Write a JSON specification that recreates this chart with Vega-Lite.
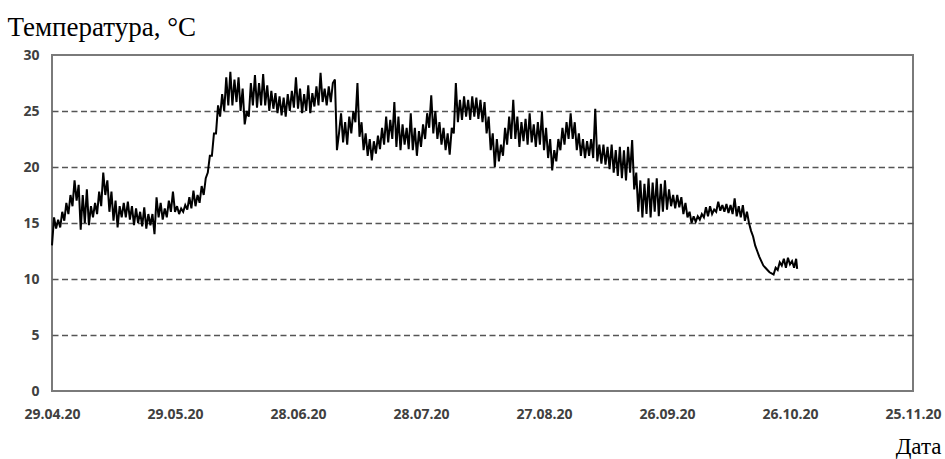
{
  "$schema": "https://vega.github.io/schema/vega-lite/v6.json",
  "autosize": {"type": "none"},
  "padding": {"left": 52, "top": 55, "right": 32, "bottom": 68},
  "width": 861,
  "height": 336,
  "background": "white",
  "config": {
    "view": {"stroke": "#7a7a7a", "strokeWidth": 2},
    "axis": {
      "labelFont": "Open Sans",
      "labelFontWeight": "bold",
      "labelFontSize": 14,
      "labelColor": "#404040",
      "titleFont": "Liberation Serif",
      "titleFontWeight": "normal",
      "titleColor": "#000000",
      "domain": false,
      "ticks": false
    }
  },
  "data": {
    "values": [
      {"t":"2020-04-29T00:00","v":13.0},{"t":"2020-04-29T12:00","v":15.5},
      {"t":"2020-04-30T00:00","v":14.5},{"t":"2020-04-30T12:00","v":15.3},
      {"t":"2020-05-01T00:00","v":14.6},{"t":"2020-05-01T12:00","v":16.0},
      {"t":"2020-05-02T00:00","v":15.2},{"t":"2020-05-02T12:00","v":16.8},
      {"t":"2020-05-03T00:00","v":15.8},{"t":"2020-05-03T12:00","v":17.5},
      {"t":"2020-05-04T00:00","v":16.5},{"t":"2020-05-04T12:00","v":18.8},
      {"t":"2020-05-05T00:00","v":17.0},{"t":"2020-05-05T12:00","v":18.4},
      {"t":"2020-05-06T00:00","v":14.4},{"t":"2020-05-06T12:00","v":17.5},
      {"t":"2020-05-07T00:00","v":15.0},{"t":"2020-05-07T12:00","v":18.0},
      {"t":"2020-05-08T00:00","v":14.8},{"t":"2020-05-08T12:00","v":16.5},
      {"t":"2020-05-09T00:00","v":15.5},{"t":"2020-05-09T12:00","v":16.8},
      {"t":"2020-05-10T00:00","v":15.8},{"t":"2020-05-10T12:00","v":17.8},
      {"t":"2020-05-11T00:00","v":16.5},{"t":"2020-05-11T12:00","v":19.5},
      {"t":"2020-05-12T00:00","v":17.5},{"t":"2020-05-12T12:00","v":18.8},
      {"t":"2020-05-13T00:00","v":16.0},{"t":"2020-05-13T12:00","v":17.8},
      {"t":"2020-05-14T00:00","v":15.2},{"t":"2020-05-14T12:00","v":17.0},
      {"t":"2020-05-15T00:00","v":14.6},{"t":"2020-05-15T12:00","v":16.5},
      {"t":"2020-05-16T00:00","v":15.5},{"t":"2020-05-16T12:00","v":16.8},
      {"t":"2020-05-17T00:00","v":15.5},{"t":"2020-05-17T12:00","v":16.9},
      {"t":"2020-05-18T00:00","v":15.3},{"t":"2020-05-18T12:00","v":16.5},
      {"t":"2020-05-19T00:00","v":14.8},{"t":"2020-05-19T12:00","v":16.3},
      {"t":"2020-05-20T00:00","v":15.0},{"t":"2020-05-20T12:00","v":16.0},
      {"t":"2020-05-21T00:00","v":14.7},{"t":"2020-05-21T12:00","v":16.4},
      {"t":"2020-05-22T00:00","v":14.5},{"t":"2020-05-22T12:00","v":15.8},
      {"t":"2020-05-23T00:00","v":14.8},{"t":"2020-05-23T12:00","v":15.8},
      {"t":"2020-05-24T00:00","v":14.0},{"t":"2020-05-24T12:00","v":17.3},
      {"t":"2020-05-25T00:00","v":15.5},{"t":"2020-05-25T12:00","v":16.8},
      {"t":"2020-05-26T00:00","v":15.3},{"t":"2020-05-26T12:00","v":16.3},
      {"t":"2020-05-27T00:00","v":15.5},{"t":"2020-05-27T12:00","v":17.0},
      {"t":"2020-05-28T00:00","v":16.0},{"t":"2020-05-28T12:00","v":17.8},
      {"t":"2020-05-29T00:00","v":16.0},{"t":"2020-05-29T12:00","v":16.5},
      {"t":"2020-05-30T00:00","v":15.8},{"t":"2020-05-30T12:00","v":16.3},
      {"t":"2020-05-31T00:00","v":16.0},{"t":"2020-05-31T12:00","v":16.6},
      {"t":"2020-06-01T00:00","v":16.2},{"t":"2020-06-01T12:00","v":17.3},
      {"t":"2020-06-02T00:00","v":16.3},{"t":"2020-06-02T12:00","v":17.9},
      {"t":"2020-06-03T00:00","v":16.5},{"t":"2020-06-03T12:00","v":17.5},
      {"t":"2020-06-04T00:00","v":16.8},{"t":"2020-06-04T12:00","v":18.3},
      {"t":"2020-06-05T00:00","v":17.5},{"t":"2020-06-05T12:00","v":19.0},
      {"t":"2020-06-06T00:00","v":19.5},{"t":"2020-06-06T12:00","v":21.0},
      {"t":"2020-06-07T00:00","v":21.0},{"t":"2020-06-07T12:00","v":23.0},
      {"t":"2020-06-08T00:00","v":23.0},{"t":"2020-06-08T12:00","v":25.5},
      {"t":"2020-06-09T00:00","v":24.5},{"t":"2020-06-09T12:00","v":26.5},
      {"t":"2020-06-10T00:00","v":25.0},{"t":"2020-06-10T12:00","v":28.0},
      {"t":"2020-06-11T00:00","v":25.5},{"t":"2020-06-11T12:00","v":28.5},
      {"t":"2020-06-12T00:00","v":25.5},{"t":"2020-06-12T12:00","v":27.8},
      {"t":"2020-06-13T00:00","v":25.8},{"t":"2020-06-13T12:00","v":28.0},
      {"t":"2020-06-14T00:00","v":25.0},{"t":"2020-06-14T12:00","v":27.0},
      {"t":"2020-06-15T00:00","v":23.8},{"t":"2020-06-15T12:00","v":25.0},
      {"t":"2020-06-16T00:00","v":24.5},{"t":"2020-06-16T12:00","v":27.5},
      {"t":"2020-06-17T00:00","v":25.5},{"t":"2020-06-17T12:00","v":28.2},
      {"t":"2020-06-18T00:00","v":25.3},{"t":"2020-06-18T12:00","v":27.5},
      {"t":"2020-06-19T00:00","v":25.5},{"t":"2020-06-19T12:00","v":28.3},
      {"t":"2020-06-20T00:00","v":25.5},{"t":"2020-06-20T12:00","v":27.3},
      {"t":"2020-06-21T00:00","v":25.0},{"t":"2020-06-21T12:00","v":26.8},
      {"t":"2020-06-22T00:00","v":25.2},{"t":"2020-06-22T12:00","v":26.6},
      {"t":"2020-06-23T00:00","v":24.8},{"t":"2020-06-23T12:00","v":26.3},
      {"t":"2020-06-24T00:00","v":24.6},{"t":"2020-06-24T12:00","v":26.2},
      {"t":"2020-06-25T00:00","v":24.5},{"t":"2020-06-25T12:00","v":26.5},
      {"t":"2020-06-26T00:00","v":25.0},{"t":"2020-06-26T12:00","v":26.8},
      {"t":"2020-06-27T00:00","v":25.3},{"t":"2020-06-27T12:00","v":28.0},
      {"t":"2020-06-28T00:00","v":25.2},{"t":"2020-06-28T12:00","v":27.0},
      {"t":"2020-06-29T00:00","v":24.8},{"t":"2020-06-29T12:00","v":26.5},
      {"t":"2020-06-30T00:00","v":25.0},{"t":"2020-06-30T12:00","v":27.3},
      {"t":"2020-07-01T00:00","v":24.8},{"t":"2020-07-01T12:00","v":26.6},
      {"t":"2020-07-02T00:00","v":25.4},{"t":"2020-07-02T12:00","v":27.2},
      {"t":"2020-07-03T00:00","v":25.5},{"t":"2020-07-03T12:00","v":28.4},
      {"t":"2020-07-04T00:00","v":25.8},{"t":"2020-07-04T12:00","v":27.0},
      {"t":"2020-07-05T00:00","v":25.5},{"t":"2020-07-05T12:00","v":27.2},
      {"t":"2020-07-06T00:00","v":25.8},{"t":"2020-07-06T12:00","v":27.5},
      {"t":"2020-07-07T00:00","v":27.8},{"t":"2020-07-07T12:00","v":21.5},
      {"t":"2020-07-08T00:00","v":23.0},{"t":"2020-07-08T12:00","v":24.8},
      {"t":"2020-07-09T00:00","v":22.2},{"t":"2020-07-09T12:00","v":24.0},
      {"t":"2020-07-10T00:00","v":22.0},{"t":"2020-07-10T12:00","v":24.5},
      {"t":"2020-07-11T00:00","v":23.0},{"t":"2020-07-11T12:00","v":25.0},
      {"t":"2020-07-12T00:00","v":24.0},{"t":"2020-07-12T12:00","v":27.5},
      {"t":"2020-07-13T00:00","v":22.7},{"t":"2020-07-13T12:00","v":24.0},
      {"t":"2020-07-14T00:00","v":21.5},{"t":"2020-07-14T12:00","v":23.0},
      {"t":"2020-07-15T00:00","v":21.0},{"t":"2020-07-15T12:00","v":22.5},
      {"t":"2020-07-16T00:00","v":20.6},{"t":"2020-07-16T12:00","v":22.3},
      {"t":"2020-07-17T00:00","v":21.2},{"t":"2020-07-17T12:00","v":22.8},
      {"t":"2020-07-18T00:00","v":21.6},{"t":"2020-07-18T12:00","v":23.5},
      {"t":"2020-07-19T00:00","v":22.0},{"t":"2020-07-19T12:00","v":24.5},
      {"t":"2020-07-20T00:00","v":22.2},{"t":"2020-07-20T12:00","v":24.2},
      {"t":"2020-07-21T00:00","v":22.5},{"t":"2020-07-21T12:00","v":25.8},
      {"t":"2020-07-22T00:00","v":21.8},{"t":"2020-07-22T12:00","v":24.5},
      {"t":"2020-07-23T00:00","v":21.5},{"t":"2020-07-23T12:00","v":23.8},
      {"t":"2020-07-24T00:00","v":22.0},{"t":"2020-07-24T12:00","v":23.5},
      {"t":"2020-07-25T00:00","v":21.6},{"t":"2020-07-25T12:00","v":24.8},
      {"t":"2020-07-26T00:00","v":21.5},{"t":"2020-07-26T12:00","v":23.5},
      {"t":"2020-07-27T00:00","v":21.0},{"t":"2020-07-27T12:00","v":23.2},
      {"t":"2020-07-28T00:00","v":21.8},{"t":"2020-07-28T12:00","v":23.8},
      {"t":"2020-07-29T00:00","v":22.5},{"t":"2020-07-29T12:00","v":24.8},
      {"t":"2020-07-30T00:00","v":23.5},{"t":"2020-07-30T12:00","v":26.4},
      {"t":"2020-07-31T00:00","v":23.0},{"t":"2020-07-31T12:00","v":25.0},
      {"t":"2020-08-01T00:00","v":22.5},{"t":"2020-08-01T12:00","v":24.0},
      {"t":"2020-08-02T00:00","v":22.0},{"t":"2020-08-02T12:00","v":23.5},
      {"t":"2020-08-03T00:00","v":21.5},{"t":"2020-08-03T12:00","v":23.0},
      {"t":"2020-08-04T00:00","v":21.1},{"t":"2020-08-04T12:00","v":23.5},
      {"t":"2020-08-05T00:00","v":23.0},{"t":"2020-08-05T12:00","v":27.5},
      {"t":"2020-08-06T00:00","v":24.0},{"t":"2020-08-06T12:00","v":26.0},
      {"t":"2020-08-07T00:00","v":24.2},{"t":"2020-08-07T12:00","v":26.3},
      {"t":"2020-08-08T00:00","v":24.5},{"t":"2020-08-08T12:00","v":26.0},
      {"t":"2020-08-09T00:00","v":24.2},{"t":"2020-08-09T12:00","v":26.3},
      {"t":"2020-08-10T00:00","v":24.5},{"t":"2020-08-10T12:00","v":26.2},
      {"t":"2020-08-11T00:00","v":24.3},{"t":"2020-08-11T12:00","v":26.0},
      {"t":"2020-08-12T00:00","v":24.0},{"t":"2020-08-12T12:00","v":25.8},
      {"t":"2020-08-13T00:00","v":23.0},{"t":"2020-08-13T12:00","v":24.5},
      {"t":"2020-08-14T00:00","v":21.5},{"t":"2020-08-14T12:00","v":23.0},
      {"t":"2020-08-15T00:00","v":20.0},{"t":"2020-08-15T12:00","v":22.5},
      {"t":"2020-08-16T00:00","v":20.5},{"t":"2020-08-16T12:00","v":22.0},
      {"t":"2020-08-17T00:00","v":21.0},{"t":"2020-08-17T12:00","v":23.5},
      {"t":"2020-08-18T00:00","v":22.0},{"t":"2020-08-18T12:00","v":24.5},
      {"t":"2020-08-19T00:00","v":22.5},{"t":"2020-08-19T12:00","v":26.0},
      {"t":"2020-08-20T00:00","v":22.5},{"t":"2020-08-20T12:00","v":24.5},
      {"t":"2020-08-21T00:00","v":21.8},{"t":"2020-08-21T12:00","v":24.0},
      {"t":"2020-08-22T00:00","v":22.3},{"t":"2020-08-22T12:00","v":24.3},
      {"t":"2020-08-23T00:00","v":22.0},{"t":"2020-08-23T12:00","v":24.8},
      {"t":"2020-08-24T00:00","v":22.2},{"t":"2020-08-24T12:00","v":23.8},
      {"t":"2020-08-25T00:00","v":21.8},{"t":"2020-08-25T12:00","v":24.0},
      {"t":"2020-08-26T00:00","v":22.0},{"t":"2020-08-26T12:00","v":24.9},
      {"t":"2020-08-27T00:00","v":21.5},{"t":"2020-08-27T12:00","v":23.5},
      {"t":"2020-08-28T00:00","v":20.8},{"t":"2020-08-28T12:00","v":22.5},
      {"t":"2020-08-29T00:00","v":19.7},{"t":"2020-08-29T12:00","v":21.5},
      {"t":"2020-08-30T00:00","v":20.5},{"t":"2020-08-30T12:00","v":22.5},
      {"t":"2020-08-31T00:00","v":21.5},{"t":"2020-08-31T12:00","v":23.5},
      {"t":"2020-09-01T00:00","v":22.0},{"t":"2020-09-01T12:00","v":24.0},
      {"t":"2020-09-02T00:00","v":22.5},{"t":"2020-09-02T12:00","v":24.8},
      {"t":"2020-09-03T00:00","v":22.5},{"t":"2020-09-03T12:00","v":24.0},
      {"t":"2020-09-04T00:00","v":21.5},{"t":"2020-09-04T12:00","v":23.0},
      {"t":"2020-09-05T00:00","v":21.0},{"t":"2020-09-05T12:00","v":22.5},
      {"t":"2020-09-06T00:00","v":20.8},{"t":"2020-09-06T12:00","v":22.3},
      {"t":"2020-09-07T00:00","v":21.0},{"t":"2020-09-07T12:00","v":22.5},
      {"t":"2020-09-08T00:00","v":20.8},{"t":"2020-09-08T12:00","v":25.2},
      {"t":"2020-09-09T00:00","v":20.5},{"t":"2020-09-09T12:00","v":22.0},
      {"t":"2020-09-10T00:00","v":20.3},{"t":"2020-09-10T12:00","v":22.0},
      {"t":"2020-09-11T00:00","v":20.2},{"t":"2020-09-11T12:00","v":21.8},
      {"t":"2020-09-12T00:00","v":19.8},{"t":"2020-09-12T12:00","v":22.0},
      {"t":"2020-09-13T00:00","v":19.5},{"t":"2020-09-13T12:00","v":21.5},
      {"t":"2020-09-14T00:00","v":19.2},{"t":"2020-09-14T12:00","v":21.8},
      {"t":"2020-09-15T00:00","v":19.0},{"t":"2020-09-15T12:00","v":21.5},
      {"t":"2020-09-16T00:00","v":18.8},{"t":"2020-09-16T12:00","v":21.8},
      {"t":"2020-09-17T00:00","v":19.5},{"t":"2020-09-17T12:00","v":22.4},
      {"t":"2020-09-18T00:00","v":18.0},{"t":"2020-09-18T12:00","v":19.5},
      {"t":"2020-09-19T00:00","v":16.0},{"t":"2020-09-19T12:00","v":18.8},
      {"t":"2020-09-20T00:00","v":15.5},{"t":"2020-09-20T12:00","v":18.5},
      {"t":"2020-09-21T00:00","v":15.8},{"t":"2020-09-21T12:00","v":19.0},
      {"t":"2020-09-22T00:00","v":15.5},{"t":"2020-09-22T12:00","v":18.6},
      {"t":"2020-09-23T00:00","v":16.0},{"t":"2020-09-23T12:00","v":19.0},
      {"t":"2020-09-24T00:00","v":15.6},{"t":"2020-09-24T12:00","v":18.5},
      {"t":"2020-09-25T00:00","v":16.0},{"t":"2020-09-25T12:00","v":18.8},
      {"t":"2020-09-26T00:00","v":16.2},{"t":"2020-09-26T12:00","v":18.0},
      {"t":"2020-09-27T00:00","v":16.5},{"t":"2020-09-27T12:00","v":17.5},
      {"t":"2020-09-28T00:00","v":16.3},{"t":"2020-09-28T12:00","v":17.5},
      {"t":"2020-09-29T00:00","v":16.4},{"t":"2020-09-29T12:00","v":17.3},
      {"t":"2020-09-30T00:00","v":15.8},{"t":"2020-09-30T12:00","v":16.8},
      {"t":"2020-10-01T00:00","v":15.5},{"t":"2020-10-01T12:00","v":16.0},
      {"t":"2020-10-02T00:00","v":15.0},{"t":"2020-10-02T12:00","v":15.6},
      {"t":"2020-10-03T00:00","v":15.1},{"t":"2020-10-03T12:00","v":15.6},
      {"t":"2020-10-04T00:00","v":15.3},{"t":"2020-10-04T12:00","v":15.8},
      {"t":"2020-10-05T00:00","v":15.5},{"t":"2020-10-05T12:00","v":16.4},
      {"t":"2020-10-06T00:00","v":15.6},{"t":"2020-10-06T12:00","v":16.5},
      {"t":"2020-10-07T00:00","v":15.8},{"t":"2020-10-07T12:00","v":16.2},
      {"t":"2020-10-08T00:00","v":16.0},{"t":"2020-10-08T12:00","v":16.9},
      {"t":"2020-10-09T00:00","v":16.1},{"t":"2020-10-09T12:00","v":16.6},
      {"t":"2020-10-10T00:00","v":16.0},{"t":"2020-10-10T12:00","v":16.7},
      {"t":"2020-10-11T00:00","v":15.9},{"t":"2020-10-11T12:00","v":16.6},
      {"t":"2020-10-12T00:00","v":15.8},{"t":"2020-10-12T12:00","v":17.2},
      {"t":"2020-10-13T00:00","v":15.6},{"t":"2020-10-13T12:00","v":16.5},
      {"t":"2020-10-14T00:00","v":15.5},{"t":"2020-10-14T12:00","v":16.6},
      {"t":"2020-10-15T00:00","v":15.2},{"t":"2020-10-15T12:00","v":16.0},
      {"t":"2020-10-16T00:00","v":15.0},{"t":"2020-10-16T12:00","v":14.3},
      {"t":"2020-10-17T00:00","v":13.8},{"t":"2020-10-17T12:00","v":13.0},
      {"t":"2020-10-18T00:00","v":12.5},{"t":"2020-10-18T12:00","v":12.0},
      {"t":"2020-10-19T00:00","v":11.6},{"t":"2020-10-19T12:00","v":11.2},
      {"t":"2020-10-20T00:00","v":11.0},{"t":"2020-10-20T12:00","v":10.8},
      {"t":"2020-10-21T00:00","v":10.6},{"t":"2020-10-21T12:00","v":10.5},
      {"t":"2020-10-22T00:00","v":10.4},{"t":"2020-10-22T12:00","v":11.0},
      {"t":"2020-10-23T00:00","v":10.8},{"t":"2020-10-23T12:00","v":11.5},
      {"t":"2020-10-24T00:00","v":11.2},{"t":"2020-10-24T12:00","v":11.8},
      {"t":"2020-10-25T00:00","v":11.0},{"t":"2020-10-25T12:00","v":11.9},
      {"t":"2020-10-26T00:00","v":11.3},{"t":"2020-10-26T12:00","v":11.6},
      {"t":"2020-10-27T00:00","v":11.0},{"t":"2020-10-27T12:00","v":11.8},
      {"t":"2020-10-27T18:00","v":10.9}
    ]
  },
  "mark": {"type": "line", "color": "#000000", "strokeWidth": 2, "strokeJoin": "miter", "strokeMiterLimit": 3},
  "encoding": {
    "x": {
      "field": "t",
      "type": "temporal",
      "scale": {
        "domain": [
          {"year": 2020, "month": 4, "date": 29},
          {"year": 2020, "month": 11, "date": 25}
        ]
      },
      "axis": {
        "title": "Дата",
        "titleFontSize": 23,
        "titleAnchor": "end",
        "titleAlign": "right",
        "titleBaseline": "alphabetic",
        "titleX": 889,
        "titleY": 62,
        "format": "%d.%m.%y",
        "grid": false,
        "labelPadding": 16,
        "labelOverlap": false,
        "labelFlush": false,
        "values": [
          {"year": 2020, "month": 4, "date": 29},
          {"year": 2020, "month": 5, "date": 29},
          {"year": 2020, "month": 6, "date": 28},
          {"year": 2020, "month": 7, "date": 28},
          {"year": 2020, "month": 8, "date": 27},
          {"year": 2020, "month": 9, "date": 26},
          {"year": 2020, "month": 10, "date": 26},
          {"year": 2020, "month": 11, "date": 25}
        ]
      }
    },
    "y": {
      "field": "v",
      "type": "quantitative",
      "scale": {"domain": [0, 30], "nice": false, "zero": true},
      "axis": {
        "title": "Температура, °C",
        "titleFontSize": 27,
        "titleAngle": 0,
        "titleAlign": "left",
        "titleBaseline": "alphabetic",
        "titleX": -45,
        "titleY": -20,
        "values": [0, 5, 10, 15, 20, 25, 30],
        "labelPadding": 13,
        "grid": true,
        "gridColor": "#555555",
        "gridWidth": 1.5,
        "gridDash": [6, 3.5],
        "gridOpacity": {"condition": {"test": "datum.value == 0 || datum.value == 30", "value": 0}, "value": 1}
      }
    }
  }
}
